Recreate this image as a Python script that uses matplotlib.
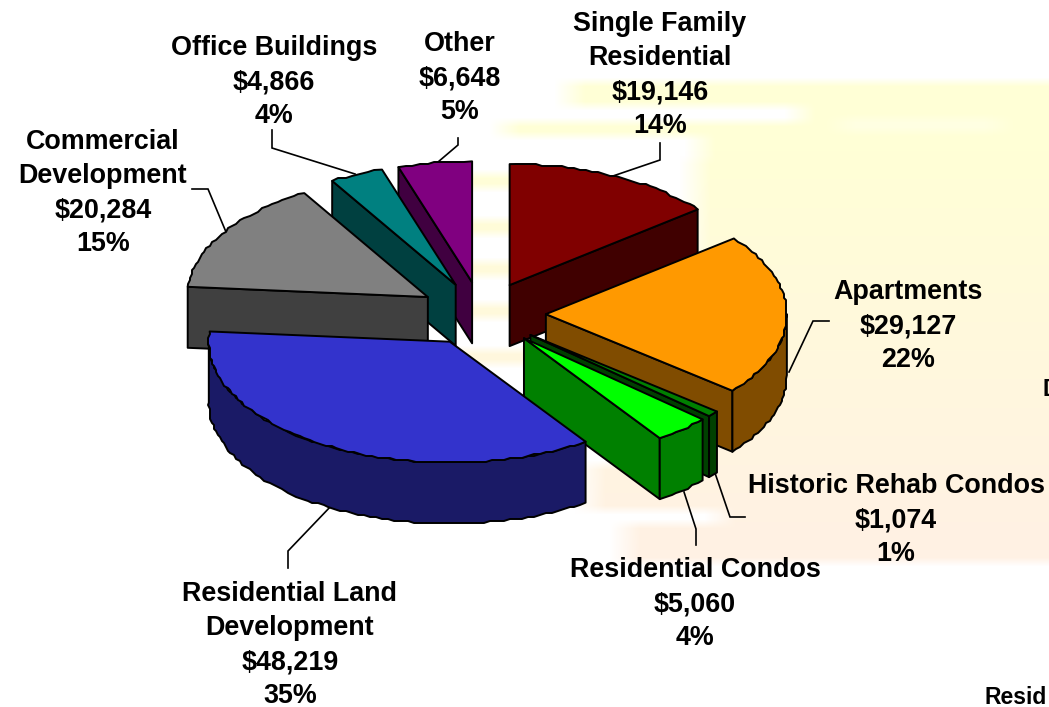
import numpy as np
import matplotlib
matplotlib.use('Agg')
import matplotlib.pyplot as plt
from matplotlib.patches import Polygon

plt.rcParams['font.family'] = ['Liberation Sans', 'DejaVu Sans']

# chart data, clockwise from 12 o'clock
labels = [['Single Family', 'Residential'], ['Apartments'], ['Historic Rehab Condos'],
          ['Residential Condos'], ['Residential Land', 'Development'],
          ['Commercial', 'Development'], ['Office Buildings'], ['Other']]
values = [19146, 29127, 1074, 5060, 48219, 20284, 4866, 6648]
percents = [14, 22, 1, 4, 35, 15, 4, 5]
top_colors = ['#800000', '#FF9900', '#008000', '#00FF00', '#3333CC', '#808080', '#008080', '#800080']
side_colors = ['#400000', '#804C00', '#004000', '#008000', '#1A1A66', '#404040', '#004040', '#400040']

# where each label's first line sits (pixels)
label_pos = [(660, 24), (908, 292), (896, 486), (695, 570), (290, 594), (103, 142), (274, 48), (460, 44)]
leaders = [[(660, 143), (660, 160), (610, 177)],
           [(829, 321), (813, 321), (789, 372)],
           [(745, 517), (730, 517), (715, 473)],
           [(696, 545), (696, 529), (684, 492)],
           [(288, 568), (288, 551), (332, 505)],
           [(192, 189), (208, 189), (226, 232)],
           [(272, 130), (272, 148), (355, 174)],
           [(458, 138), (458, 145), (438, 162)]]

# pie geometry in pixels
cx, cy = 482, 314
rx, ry = 241, 121
depth = 61
explode = 0.265
line_w = 1.4
draw_order = [7, 6, 5, 0, 1, 2, 3, 4]

# left edge of the washed-out backdrop, row by row
bg_rows = [(82, 106, 570), (106, 122, 800), (122, 136, 505), (136, 160, 700), (160, 300, 695),
           (300, 465, 690), (465, 510, 590), (510, 524, 720), (524, 562, 625)]
bg_stripes = [174, 220, 262, 304, 350]


def smooth(a, size, axis):
    kernel = np.ones(size) / size
    pad = size // 2
    b = np.pad(a, pad, mode='edge')
    b = np.apply_along_axis(lambda r: np.convolve(r, kernel, mode='same'), axis, b)
    return b[pad:-pad, pad:-pad]


def background():
    h, w = 707, 1049
    alpha = np.zeros((h, w))
    for y0, y1, x0 in bg_rows:
        alpha[y0:y1, x0:] = 1
    for y0 in bg_stripes:
        alpha[y0:y0 + 14, 440:540] = 1
    alpha[118:132, 840:1000] = 0.7
    alpha = smooth(alpha, 31, 1)
    alpha = smooth(alpha, 9, 0)

    yy = np.arange(h)[:, None, None]
    t = np.clip((yy - 150) / 400, 0, 1)
    c0 = np.array([255, 255, 214]) / 255
    c1 = np.array([255, 241, 228]) / 255
    col = c0 * (1 - t) + c1 * t
    return 1 - alpha[..., None] * (1 - col)


def arc(theta0, theta1, x0, y0):
    # lumpy edge like the low-res original
    n = max(2, int((theta1 - theta0) / 1.5))
    th = np.radians(np.linspace(theta0, theta1, n))
    x = x0 + rx * np.sin(th)
    y = y0 - ry * np.cos(th)
    y[1:-1] = np.round(y[1:-1] / 2.0) * 2.0
    x[1:-1] = np.round(x[1:-1] / 2.0) * 2.0
    return np.column_stack([x, y])


fig = plt.figure(figsize=(10.49, 7.07), dpi=100)
ax = fig.add_axes([0, 0, 1, 1])
ax.imshow(background(), extent=(0, 1049, 707, 0), aspect='auto', zorder=0)
ax.set_xlim(0, 1049)
ax.set_ylim(707, 0)
ax.axis('off')

# slice angles from the values
total = sum(values)
edges = np.concatenate([[0], np.cumsum(values)]) / total * 360.0

z = 2
for i in draw_order:
    t0, t1 = edges[i], edges[i + 1]
    mid = np.radians((t0 + t1) / 2)
    ax0 = cx + explode * rx * np.sin(mid)
    ay0 = cy - explode * ry * np.cos(mid)
    down = np.array([0, depth])
    apex = np.array([ax0, ay0])
    top_arc = arc(t0, t1, ax0, ay0)

    # flat cut faces, only when they look towards the viewer
    if np.cos(np.radians(t0 - 90)) < -1e-6:
        quad = [apex, top_arc[0], top_arc[0] + down, apex + down]
        ax.add_patch(Polygon(quad, fc=side_colors[i], ec='k', lw=line_w, joinstyle='round', zorder=z))
    if np.cos(np.radians(t1 + 90)) < -1e-6:
        quad = [apex, top_arc[-1], top_arc[-1] + down, apex + down]
        ax.add_patch(Polygon(quad, fc=side_colors[i], ec='k', lw=line_w, joinstyle='round', zorder=z))

    # outer wall on the front half of the ellipse
    w0, w1 = max(t0, 90), min(t1, 270)
    if w1 > w0:
        wall = arc(w0, w1, ax0, ay0)
        pts = np.vstack([wall, wall[::-1] + down])
        ax.add_patch(Polygon(pts, fc=side_colors[i], ec='k', lw=line_w, joinstyle='round', zorder=z))

    top = np.vstack([apex, top_arc])
    ax.add_patch(Polygon(top, fc=top_colors[i], ec='k', lw=line_w, joinstyle='round', zorder=z))
    z += 1

for pts in leaders:
    xs, ys = zip(*pts)
    ax.plot(xs, ys, color='k', lw=1.2, zorder=1, solid_joinstyle='miter')

# labels, one text per line so the spacing can follow the original
line_step = 34
for name, val, pct, (lx, ly) in zip(labels, values, percents, label_pos):
    lines = name + ['${:,}'.format(val), '{}%'.format(pct)]
    for k, s in enumerate(lines):
        ax.text(lx, ly + k * line_step, s, ha='center', va='center', fontsize=19.4,
                fontweight='bold', color='k', zorder=20)

# cut-off labels at the figure edge
ax.text(1042, 390, 'D', ha='left', va='center', fontsize=16.5, fontweight='bold', zorder=20)
ax.text(984, 698, 'Resid', ha='left', va='center', fontsize=16.5, fontweight='bold', zorder=20)

fig.savefig('out.png', dpi=100)
